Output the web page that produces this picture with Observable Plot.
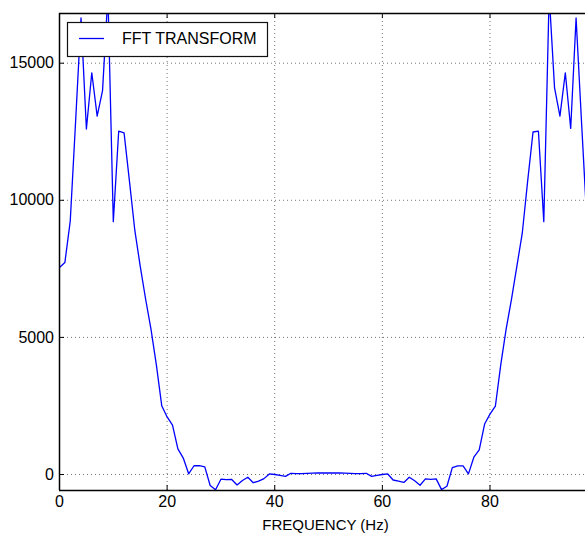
<!DOCTYPE html>
<html>
<head>
<meta charset="utf-8">
<script src="https://cdn.jsdelivr.net/npm/d3@7"></script>
<script src="https://cdn.jsdelivr.net/npm/@observablehq/plot@0.6"></script>
<style>
  html, body { margin: 0; padding: 0; background: #ffffff; }
  #chart { width: 585px; height: 533px; overflow: hidden; }
</style>
</head>
<body>
<div id="chart"></div>
<script>
// ---- data ----
const frequency = [
  0, 1, 2, 3, 4, 5, 6, 7, 8, 9,
  10, 11, 12, 13, 14, 15, 16, 17, 18, 19,
  20, 21, 22, 23, 24, 25, 26, 27, 28, 29,
  30, 31, 32, 33, 34, 35, 36, 37, 38, 39,
  40, 41, 42, 43, 44, 45, 46, 47, 48, 49,
  50, 51, 52, 53, 54, 55, 56, 57, 58, 59,
  60, 61, 62, 63, 64, 65, 66, 67, 68, 69,
  70, 71, 72, 73, 74, 75, 76, 77, 78, 79,
  80, 81, 82, 83, 84, 85, 86, 87, 88, 89,
  90, 91, 92, 93, 94, 95, 96, 97, 98, 99
];
const fftValue = [
  7550, 7730, 9250, 12900, 16650, 12600, 14650, 13070, 14000, 17500,
  9220, 12520, 12460, 10700, 8900, 7600, 6400, 5300, 4000, 2510,
  2100, 1800, 935, 600, 25, 320, 320, 280, -400, -555,
  -170, -190, -180, -380, -220, -100, -300, -240, -150, 20,
  0, -30, -70, 45, 30, 30, 40, 50, 60, 55,
  60, 55, 60, 50, 40, 30, 30, 45, -70, -30,
  0, 20, -200, -240, -290, -100, -230, -390, -160, -180,
  -160, -550, -430, 250, 316, 316, 25, 630, 900, 1840,
  2200, 2490, 4000, 5300, 6400, 7600, 8800, 10700, 12490, 12520,
  9220, 17500, 14100, 13070, 14650, 12620, 16650, 12900, 9250, 7730
];
const xTicks = [0, 20, 40, 60, 80];
const yTicks = [0, 5000, 10000, 15000];
const xDomain = [0, 97.75];
const yDomain = [-583, 16812];
const xLabel = "FREQUENCY (Hz)";
const legendLabel = "FFT TRANSFORM";

const table = frequency.map((f, i) => ({f, v: fftValue[i]}));

const FONT = "'Liberation Sans', Arial, Helvetica, sans-serif";
const gridStyle = {stroke: "#000", strokeOpacity: 0.55, strokeDasharray: "1,3", strokeWidth: 1};

const plot = Plot.plot({
  width: 585,
  height: 533,
  marginLeft: 59,
  marginRight: 0,
  marginTop: 13,
  marginBottom: 43,
  style: {fontFamily: FONT, fontSize: "16px", background: "#fff", color: "#000"},
  x: {domain: xDomain, axis: null},
  y: {domain: yDomain, axis: null},
  marks: [
    Plot.gridX(xTicks, gridStyle),
    Plot.gridY(yTicks, gridStyle),
    Plot.line(table, {x: "f", y: "v", stroke: "#0000ff", strokeWidth: 1.3, clip: true}),
    // inward ticks
    Plot.ruleX(xTicks, {x: d => d, insetTop: 472, stroke: "#000", strokeWidth: 1}),
    Plot.ruleX(xTicks, {x: d => d, insetBottom: 472, stroke: "#000", strokeWidth: 1}),
    Plot.ruleY(yTicks, {y: d => d, insetRight: 521, stroke: "#000", strokeWidth: 1}),
    // spines (left, bottom, top)
    Plot.ruleX([xDomain[0]], {stroke: "#000", strokeWidth: 1.5}),
    Plot.ruleY([yDomain[0]], {stroke: "#000", strokeWidth: 1.5}),
    Plot.ruleY([yDomain[1]], {stroke: "#000", strokeWidth: 1.5}),
    // tick labels
    Plot.axisX(xTicks, {tickSize: 0, tickPadding: 5, fontSize: 16, label: null, tickFormat: d => String(d)}),
    Plot.axisY(yTicks, {tickSize: 0, tickPadding: 5.5, fontSize: 16, label: null, tickFormat: d => String(d)}),
    // axis title
    Plot.text([xLabel], {frameAnchor: "bottom", dx: 3, dy: 39, lineAnchor: "bottom", fontSize: 15, fill: "#000"})
  ]
});

// legend box drawn inside the svg, on top of the line
const svg = d3.select(plot);
const lg = svg.append("g").attr("class", "legend").attr("text-anchor", "start");
lg.append("rect")
  .attr("x", 67.5).attr("y", 22.5).attr("width", 200).attr("height", 34)
  .attr("fill", "#fff").attr("stroke", "#111").attr("stroke-width", 1.2);
lg.append("line")
  .attr("x1", 79).attr("x2", 104).attr("y1", 38.5).attr("y2", 38.5)
  .attr("stroke", "#0000ff").attr("stroke-width", 1.3);
lg.append("text")
  .attr("x", 122).attr("y", 44)
  .attr("text-anchor", "start")
  .attr("font-family", FONT).attr("font-size", 16).attr("fill", "#000")
  .text(legendLabel);

document.getElementById("chart").appendChild(plot);
</script>
</body>
</html>
